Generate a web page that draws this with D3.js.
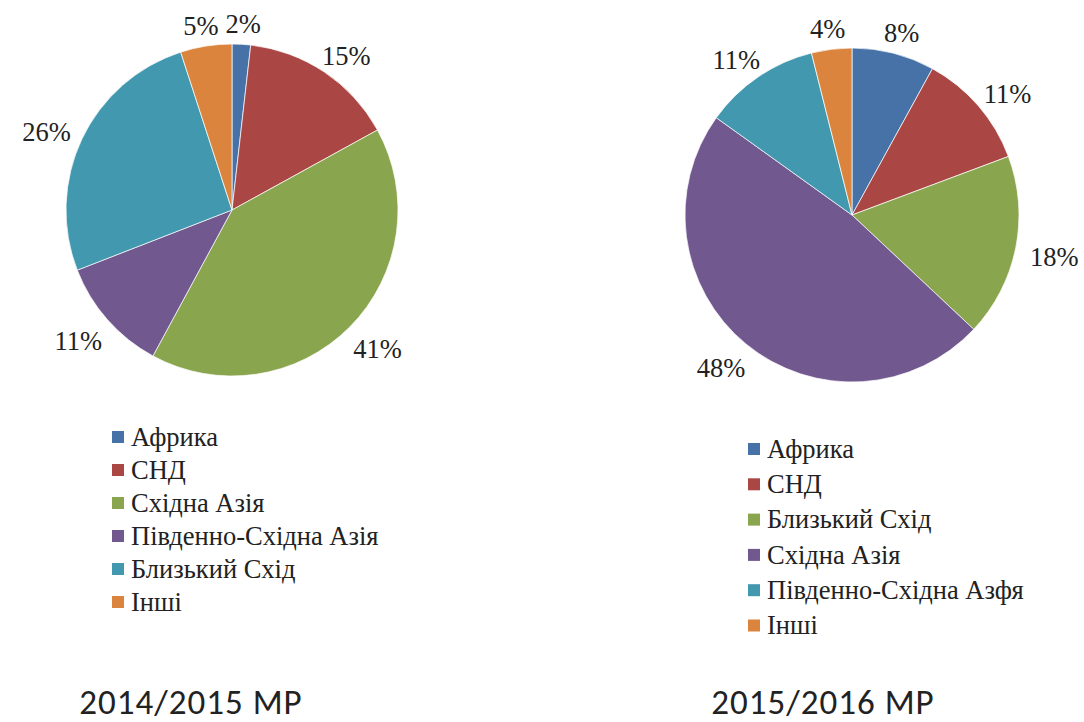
<!DOCTYPE html>
<html>
<head>
<meta charset="utf-8">
<script src="https://cdn.jsdelivr.net/npm/d3@7"></script>
</head>
<body style="margin:0">
<svg id="chart" width="1084" height="722" style="display:block"></svg>
<script>
// --- data ---
var regions1 = ["Африка", "СНД", "Східна Азія", "Південно-Східна Азія", "Близький Схід", "Інші"];
var values1 = [1.8, 15.2, 40.9, 11.2, 25.9, 5.0];
var colors1 = ["#4672A8", "#AA4644", "#89A54E", "#71588F", "#4198AF", "#DB843D"];
var title1 = "2014/2015 МР";

var regions2 = ["Африка", "СНД", "Близький Схід", "Східна Азія", "Південно-Східна Азфя", "Інші"];
var values2 = [8.0, 11.3, 17.7, 47.9, 11.2, 3.9];
var colors2 = ["#4672A8", "#AA4644", "#89A54E", "#71588F", "#4198AF", "#DB843D"];
var title2 = "2015/2016 МР";

var svg = d3.select("#chart");
var serif = "'Liberation Serif'";

function drawPie(opts){
    var g = svg.append("g")
        .attr("transform", "translate(" + opts.cx + "," + opts.cy + ")");
    var total = d3.sum(opts.values);
    var pie = d3.pie().sort(null).value(function(d){ return d; });
    var arcs = pie(opts.values);
    var arc = d3.arc().innerRadius(0).outerRadius(opts.r);

    g.selectAll("path")
        .data(arcs)
        .enter()
        .append("path")
        .attr("d", arc)
        .attr("fill", function(d, i){ return opts.colors[i]; })
        .attr("stroke", "#fff")
        .attr("stroke-width", 0.7)
        .attr("stroke-linejoin", "round");

    // labels outside the slice end, nearest side pinned near the rim
    var pad = 15;
    g.selectAll("text.lbl")
        .data(arcs)
        .enter()
        .append("text")
        .attr("class", "lbl")
        .style("font-family", serif)
        .style("font-size", "26.5px")
        .attr("fill", "#222")
        .attr("text-anchor", "middle")
        .attr("dy", "0.35em")
        .text(function(d){ return Math.round(d.value / total * 100) + "%"; })
        .each(function(d){
            var a = (d.startAngle + d.endAngle) / 2;
            var w = this.getComputedTextLength();
            var h = 20;
            var px = Math.sin(a) * (opts.r + pad);
            var py = -Math.cos(a) * (opts.r + pad);
            d3.select(this)
                .attr("x", px + Math.sin(a) * w / 2)
                .attr("y", py - Math.cos(a) * h / 2 + 4);
        });

    // legend
    var leg = svg.append("g")
        .attr("transform", "translate(" + opts.lx + "," + opts.ly + ")");
    var rows = leg.selectAll("g")
        .data(opts.names)
        .enter()
        .append("g")
        .attr("transform", function(d, i){ return "translate(0," + (i * opts.lstep) + ")"; });
    rows.append("rect")
        .attr("x", 0).attr("y", -6)
        .attr("width", 12).attr("height", 12)
        .attr("fill", function(d, i){ return opts.colors[i]; });
    rows.append("text")
        .attr("x", 19)
        .attr("y", 0)
        .attr("dy", "0.33em")
        .style("font-family", serif)
        .style("font-size", "26.5px")
        .attr("fill", "#222")
        .text(function(d){ return d; });

    svg.append("text")
        .attr("x", opts.tx)
        .attr("y", 714)
        .attr("text-anchor", "middle")
        .style("font-family", "'Carlito'")
        .style("font-size", "35px")
        .style("letter-spacing", "1px")
        .attr("fill", "#222")
        .text(opts.title);
}

drawPie({values: values1, names: regions1, colors: colors1, title: title1,
         cx: 232, cy: 210, r: 166, lx: 112, ly: 437, lstep: 33, tx: 191});
drawPie({values: values2, names: regions2, colors: colors2, title: title2,
         cx: 852, cy: 215, r: 167, lx: 748, ly: 449, lstep: 35.3, tx: 823});
</script>
</body>
</html>
